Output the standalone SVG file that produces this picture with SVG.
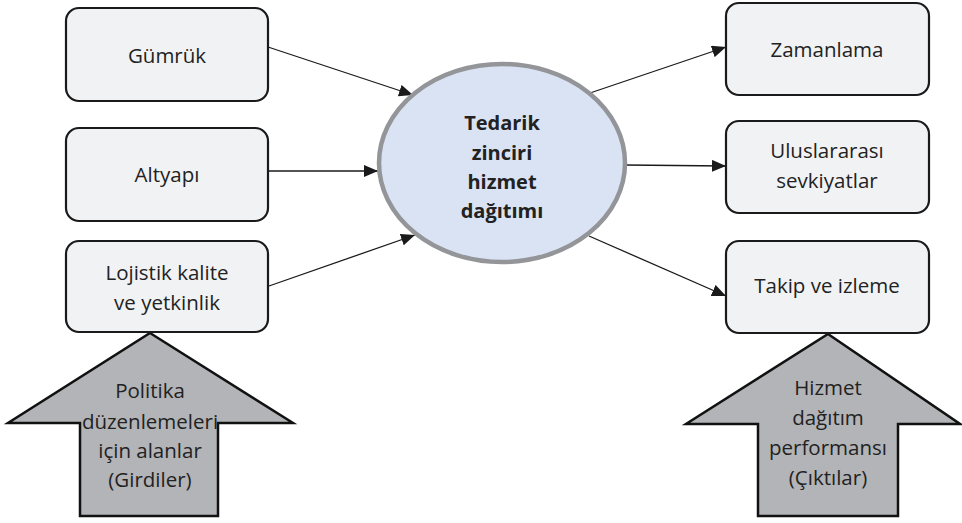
<svg xmlns="http://www.w3.org/2000/svg" width="962" height="523" viewBox="0 0 962 523">
<defs>
<marker id="ah" viewBox="0 0 14 12" refX="14" refY="6" markerWidth="14" markerHeight="12" markerUnits="userSpaceOnUse" orient="auto">
<path d="M0,0 L14,6 L0,12 Z" fill="#1a1a1a"/>
</marker>
<style>
.box{fill:#f1f2f4;stroke:#1a1a1a;stroke-width:2.2}
.t{font-family:"Open Sans","Liberation Sans",sans-serif;font-size:20.5px;fill:#222;text-anchor:middle}
.b{font-family:"Open Sans","Liberation Sans",sans-serif;font-size:20px;font-weight:bold;fill:#222;text-anchor:middle}
.big{fill:#b3b4b7;stroke:#111;stroke-width:2.5;stroke-linejoin:miter}
.c{stroke:#1a1a1a;stroke-width:1.3;fill:none;marker-end:url(#ah)}
</style>
</defs>
<rect width="962" height="523" fill="#fff"/>
<g id="connectors">
<line class="c" x1="268" y1="47" x2="413" y2="95"/>
<line class="c" x1="265" y1="171" x2="378" y2="171"/>
<line class="c" x1="269" y1="286" x2="415" y2="235"/>
<line class="c" x1="590" y1="93" x2="726" y2="47"/>
<line class="c" x1="625" y1="165" x2="726" y2="166"/>
<line class="c" x1="589" y1="236" x2="726" y2="296"/>
</g>
<g id="input-arrow">
<polygon class="big" points="150,333 293,423 218,423 218,516 80,516 80,423 8,423"/>
<text class="t" x="150" y="398">Politika</text>
<text class="t" x="150" y="429">düzenlemeleri</text>
<text class="t" x="150" y="458">için alanlar</text>
<text class="t" x="150" y="487">(Girdiler)</text>
</g>
<g id="output-arrow">
<polygon class="big" points="828,334 960,424 898,424 898,516 758,516 758,424 686,424"/>
<text class="t" x="828" y="395">Hizmet</text>
<text class="t" x="828" y="425">dağıtım</text>
<text class="t" x="828" y="455">performansı</text>
<text class="t" x="828" y="485">(Çıktılar)</text>
</g>
<g id="gumruk">
<rect class="box" x="66" y="8" width="202" height="93" rx="13"/>
<text class="t" x="167" y="63">Gümrük</text>
</g>
<g id="altyapi">
<rect class="box" x="66" y="128" width="202" height="93" rx="13"/>
<text class="t" x="167" y="182">Altyapı</text>
</g>
<g id="lojistik">
<rect class="box" x="66" y="241" width="202" height="91" rx="13"/>
<text class="t" x="167" y="280">Lojistik kalite</text>
<text class="t" x="167" y="310">ve yetkinlik</text>
</g>
<g id="center">
<ellipse cx="502" cy="163" rx="123" ry="99" fill="#dae3f3" stroke="#939598" stroke-width="4.5"/>
<text class="b" x="502" y="130">Tedarik</text>
<text class="b" x="502" y="160">zinciri</text>
<text class="b" x="502" y="189">hizmet</text>
<text class="b" x="502" y="218">dağıtımı</text>
</g>
<g id="zamanlama">
<rect class="box" x="726" y="3" width="203" height="92" rx="13"/>
<text class="t" x="827" y="57">Zamanlama</text>
</g>
<g id="uluslararasi">
<rect class="box" x="726" y="121" width="203" height="92" rx="13"/>
<text class="t" x="827" y="158">Uluslararası</text>
<text class="t" x="827" y="188">sevkiyatlar</text>
</g>
<g id="takip">
<rect class="box" x="726" y="241" width="203" height="92" rx="13"/>
<text class="t" x="827" y="293">Takip ve izleme</text>
</g>
</svg>
